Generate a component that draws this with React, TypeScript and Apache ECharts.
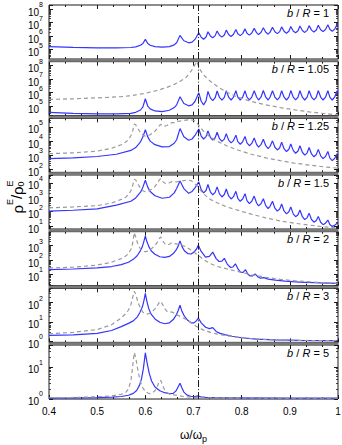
import { useEffect, useRef } from 'react';
import * as echarts from 'echarts';

// ---------- DATA (values are log10 of rho^E / rho_0^E) ----------
const panelLabels = ['1', '1.05', '1.25', '1.5', '2', '3', '5'];
const xTicks = [0.4, 0.5, 0.6, 0.7, 0.8, 0.9, 1];
const omegaDivider = Math.SQRT1_2; // dash-dot line at omega/omega_p = 1/sqrt(2)

// log10 axis extents of each panel (min, max)
const yExtentLog = [
  [4.3, 8.3],
  [4.3, 8.3],
  [1.81, 5.6],
  [0.8, 4.54],
  [0.22, 3.97],
  [-0.07, 2.75],
  [-0.02, 1.69],
];

// shared omega grid of the blue curves of panels 1-4
const omegaB = [
  0.40, 0.45, 0.50, 0.54, 0.57, 0.58, 0.59, 0.595, 0.60, 0.605, 0.61, 0.62, 0.635, 0.65, 0.66, 0.665, 0.672, 0.68, 0.69, 0.697, 0.703,
  0.711, 0.716, 0.721, 0.726, 0.730, 0.735, 0.740, 0.745, 0.749, 0.754, 0.759, 0.764, 0.768, 0.773, 0.778, 0.783,
  0.788, 0.792, 0.797, 0.802, 0.807, 0.811, 0.816, 0.821, 0.826, 0.831, 0.835, 0.840, 0.845, 0.850, 0.855, 0.859,
  0.864, 0.869, 0.874, 0.879, 0.883, 0.888, 0.893, 0.898, 0.902, 0.907, 0.912, 0.917, 0.921, 0.926, 0.931, 0.936,
  0.940, 0.945, 0.950, 0.955, 0.959, 0.964, 0.969, 0.974, 0.979, 0.983, 0.988, 0.993, 0.998, 1.0,
];

const logB1 = [
  5.22, 5.16, 5.12, 5.12, 5.15, 5.2, 5.32, 5.45, 5.75, 5.45, 5.32, 5.22, 5.18, 5.22, 5.35, 5.5, 6.05, 5.65, 5.5, 5.55, 5.75,
  6.25, 5.91, 5.76, 5.93, 6.32, 6.01, 5.88, 6.03, 6.38, 6.06, 5.92, 6.08, 6.44, 6.11, 5.97, 6.13,
  6.49, 6.17, 6.03, 6.18, 6.53, 6.21, 6.07, 6.22, 6.57, 6.25, 6.11, 6.26, 6.61, 6.28, 6.14, 6.29,
  6.65, 6.32, 6.18, 6.33, 6.68, 6.35, 6.21, 6.36, 6.71, 6.38, 6.24, 6.39, 6.74, 6.41, 6.27, 6.42,
  6.77, 6.44, 6.30, 6.45, 6.80, 6.47, 6.33, 6.48, 6.83, 6.50, 6.36, 6.51, 6.86, 6.8,
];

const logB2 = [
  4.54, 4.47, 4.43, 4.43, 4.47, 4.55, 4.72, 4.95, 5.55, 5.0, 4.8, 4.65, 4.6, 4.7, 4.9, 5.1, 5.7, 5.2, 5.03, 5.1, 5.35,
  5.99, 5.37, 5.1, 5.4, 6.1, 5.62, 5.42, 5.63, 6.13, 5.65, 5.45, 5.66, 6.14, 5.67, 5.46, 5.67,
  6.15, 5.67, 5.46, 5.67, 6.14, 5.67, 5.47, 5.68, 6.15, 5.68, 5.46, 5.67, 6.16, 5.67, 5.46, 5.68,
  6.15, 5.68, 5.47, 5.68, 6.15, 5.67, 5.46, 5.67, 6.16, 5.68, 5.47, 5.68, 6.15, 5.67, 5.46, 5.67,
  6.15, 5.68, 5.47, 5.68, 6.16, 5.68, 5.46, 5.67, 6.15, 5.67, 5.46, 5.67, 6.15, 6.0,
];

const logB3 = [
  2.77, 2.82, 2.92, 3.08, 3.35, 3.55, 3.95, 4.3, 4.8, 4.3, 4.0, 3.75, 3.6, 3.62, 3.85, 4.1, 4.88, 4.3, 4.06, 4.15, 4.4,
  4.85, 4.36, 4.15, 4.32, 4.72, 4.27, 4.08, 4.24, 4.62, 4.17, 3.98, 4.14, 4.52, 4.07, 3.88, 4.04,
  4.42, 3.97, 3.78, 3.95, 4.33, 3.88, 3.68, 3.84, 4.22, 3.77, 3.58, 3.75, 4.13, 3.68, 3.48, 3.64,
  4.02, 3.57, 3.38, 3.54, 3.92, 3.47, 3.27, 3.43, 3.8, 3.35, 3.15, 3.31, 3.68, 3.22, 3.02, 3.18,
  3.55, 3.1, 2.9, 3.06, 3.42, 2.97, 2.77, 2.92, 3.28, 2.83, 2.63, 2.78, 3.12, 3.05,
];

const logB4 = [
  2.04, 2.1, 2.2, 2.45, 2.72, 2.95, 3.35, 3.7, 4.18, 3.7, 3.4, 3.1, 2.93, 3.0, 3.3, 3.6, 4.13, 3.6, 3.27, 3.4, 3.65,
  4.06, 3.53, 3.3, 3.47, 3.88, 3.38, 3.17, 3.34, 3.72, 3.23, 3.02, 3.19, 3.57, 3.09, 2.88, 3.04,
  3.41, 2.93, 2.72, 2.88, 3.25, 2.77, 2.56, 2.72, 3.08, 2.6, 2.4, 2.55, 2.9, 2.42, 2.22, 2.37,
  2.72, 2.24, 2.04, 2.19, 2.53, 2.05, 1.85, 1.99, 2.33, 1.85, 1.65, 1.79, 2.12, 1.65, 1.45, 1.59,
  1.9, 1.46, 1.27, 1.39, 1.66, 1.27, 1.1, 1.2, 1.42, 1.11, 0.98, 1.05, 1.2, 1.15,
];

const omegaB5 = [
  0.4, 0.45, 0.5, 0.53, 0.55, 0.565, 0.575, 0.583, 0.589, 0.594, 0.597, 0.6, 0.603, 0.607, 0.612,
  0.62, 0.63, 0.64, 0.65, 0.658, 0.664, 0.668, 0.672, 0.676, 0.681, 0.688, 0.695, 0.701, 0.706, 0.71,
  0.716, 0.725, 0.733, 0.74, 0.747, 0.753, 0.759, 0.764, 0.77, 0.777, 0.782, 0.787, 0.793, 0.798, 0.803,
  0.808, 0.813, 0.818, 0.823, 0.828, 0.834, 0.839, 0.846, 0.855, 0.87, 0.89, 0.92, 0.95, 0.98, 1.0,
];
const logB5 = [
  1.33, 1.38, 1.45, 1.55, 1.68, 1.85, 2.05, 2.3, 2.6, 2.95, 3.3, 3.68, 3.3, 2.95, 2.65,
  2.4, 2.23, 2.18, 2.25, 2.45, 2.7, 2.95, 3.33, 2.95, 2.65, 2.45, 2.42, 2.55, 2.75, 3.02,
  2.6, 2.2, 2.25, 2.55, 2.1, 1.9, 1.92, 2.12, 1.72, 1.48, 1.52, 1.74, 1.35, 1.14, 1.15,
  1.33, 1.02, 0.9, 0.9, 1.04, 0.82, 0.74, 0.78, 0.68, 0.6, 0.53, 0.47, 0.43, 0.4, 0.38,
];

const omegaB6 = [
  0.4, 0.45, 0.5, 0.53, 0.55, 0.565, 0.575, 0.583, 0.589, 0.594, 0.597, 0.6, 0.603, 0.607, 0.612,
  0.62, 0.63, 0.64, 0.65, 0.658, 0.664, 0.668, 0.672, 0.676, 0.681, 0.688, 0.695, 0.701, 0.706, 0.71,
  0.716, 0.725, 0.733, 0.74, 0.747, 0.755, 0.765, 0.78, 0.8, 0.83, 0.87, 0.92, 1.0,
];
const logB6 = [
  0.29, 0.32, 0.4, 0.55, 0.75, 0.92, 1.05, 1.25, 1.5, 1.8, 2.1, 2.49, 2.1, 1.7, 1.4,
  1.15, 0.98, 0.9, 0.95, 1.12, 1.35, 1.58, 1.87, 1.55, 1.3, 1.08, 0.95, 0.95, 1.05, 1.2,
  0.95, 0.72, 0.65, 0.7, 0.5, 0.4, 0.33, 0.25, 0.17, 0.1, 0.06, 0.03, 0.015,
];

const omegaB7 = [
  0.4, 0.45, 0.5, 0.53, 0.55, 0.565, 0.575, 0.582, 0.588, 0.592, 0.596, 0.6, 0.604, 0.608, 0.613,
  0.62, 0.63, 0.64, 0.65, 0.658, 0.664, 0.668, 0.672, 0.676, 0.68, 0.686, 0.695, 0.703, 0.709, 0.715,
  0.725, 0.75, 0.8, 0.9, 1.0,
];
const logB7 = [
  0.01, 0.015, 0.025, 0.04, 0.06, 0.1, 0.16, 0.25, 0.42, 0.62, 0.95, 1.44, 1.1, 0.8, 0.55,
  0.36, 0.24, 0.18, 0.15, 0.16, 0.24, 0.36, 0.48, 0.33, 0.2, 0.11, 0.06, 0.06, 0.08, 0.05,
  0.03, 0.02, 0.015, 0.01, 0.01,
];

// shared omega grid of the grey dashed curves (panels 2-7)
const omegaG = [
  0.40, 0.45, 0.50, 0.53, 0.55, 0.56, 0.565, 0.57, 0.574, 0.577, 0.58, 0.585, 0.59, 0.595, 0.60,
  0.605, 0.61, 0.615, 0.62, 0.625, 0.629, 0.632, 0.636, 0.64, 0.645, 0.65, 0.655, 0.66, 0.667, 0.675,
  0.685, 0.695, 0.701, 0.707, 0.713, 0.72, 0.735, 0.75, 0.77, 0.79, 0.82, 0.85, 0.88, 0.91, 0.94, 0.97, 1.0,
];
const logG2 = [
  5.50, 5.55, 5.62, 5.67, 5.71, 5.74, 5.76, 5.78, 5.80, 5.82, 5.84, 5.86, 5.90, 5.93, 5.97,
  6.00, 6.04, 6.08, 6.13, 6.18, 6.22, 6.25, 6.30, 6.34, 6.40, 6.47, 6.55, 6.62, 6.74, 6.90,
  7.15, 7.6, 7.95, 8.3, 7.75, 7.35, 6.85, 6.45, 6.02, 5.7, 5.35, 5.1, 4.9, 4.73, 4.58, 4.46, 4.36,
];
const logG3 = [
  3.12, 3.18, 3.3, 3.5, 3.75, 3.95, 4.12, 4.38, 4.75, 5.2, 5.15, 4.85, 4.6, 4.42, 4.35,
  4.37, 4.45, 4.56, 4.7, 4.9, 5.08, 5.18, 5.1, 5.05, 5.1, 5.2, 5.3, 5.3, 5.38, 5.43,
  5.48, 5.5, 5.45, 5.3, 5.02, 4.72, 4.27, 3.97, 3.66, 3.4, 3.08, 2.83, 2.63, 2.45, 2.32, 2.2, 2.1,
];
const logG4 = [
  2.27, 2.33, 2.42, 2.6, 2.85, 3.02, 3.2, 3.45, 3.85, 4.25, 4.2, 3.9, 3.62, 3.45, 3.38,
  3.4, 3.48, 3.6, 3.75, 3.97, 4.2, 4.29, 4.1, 3.98, 3.95, 4.0, 4.08, 4.05, 4.08, 4.12,
  4.18, 4.15, 4.0, 3.8, 3.55, 3.25, 2.85, 2.6, 2.32, 2.12, 1.83, 1.57, 1.36, 1.2, 1.07, 0.96, 0.87,
];
const logG5 = [
  1.45, 1.5, 1.65, 1.85, 2.1, 2.3, 2.45, 2.75, 3.2, 3.9, 3.6, 3.05, 2.75, 2.6, 2.58,
  2.62, 2.72, 2.85, 3.0, 3.25, 3.5, 3.6, 3.35, 3.15, 3.05, 3.1, 3.2, 3.15, 3.1, 3.05,
  2.9, 2.7, 2.55, 2.4, 2.25, 2.05, 1.75, 1.55, 1.38, 1.22, 0.98, 0.8, 0.66, 0.56, 0.49, 0.43, 0.38,
];
const logG6 = [
  0.38, 0.45, 0.6, 0.85, 1.2, 1.45, 1.62, 1.9, 2.3, 2.6, 2.45, 2.0, 1.7, 1.5, 1.42,
  1.42, 1.45, 1.55, 1.68, 1.85, 2.02, 2.07, 1.9, 1.7, 1.55, 1.5, 1.52, 1.45, 1.35, 1.25,
  1.12, 0.95, 0.85, 0.75, 0.67, 0.58, 0.45, 0.36, 0.27, 0.2, 0.13, 0.08, 0.05, 0.035, 0.025, 0.02, 0.015,
];
const logG7 = [
  0.02, 0.03, 0.05, 0.08, 0.13, 0.2, 0.3, 0.55, 1.05, 1.45, 1.3, 0.85, 0.52, 0.33, 0.22,
  0.17, 0.15, 0.18, 0.24, 0.38, 0.55, 0.57, 0.4, 0.27, 0.18, 0.14, 0.13, 0.11, 0.09, 0.07,
  0.05, 0.04, 0.035, 0.03, 0.025, 0.02, 0.02, 0.02, 0.015, 0.015, 0.01, 0.01, 0.01, 0.01, 0.01, 0.01, 0.01,
];

const blueCurves: [number[], number[]][] = [
  [omegaB, logB1], [omegaB, logB2], [omegaB, logB3], [omegaB, logB4],
  [omegaB5, logB5], [omegaB6, logB6], [omegaB7, logB7],
];
const greyCurves: ([number[], number[]] | null)[] = [
  null, [omegaG, logG2], [omegaG, logG3], [omegaG, logG4], [omegaG, logG5], [omegaG, logG6], [omegaG, logG7],
];

// ---------- LAYOUT ----------
const W = 342;
const H = 445;
const PANEL_PITCH = 56.67;
const PANEL_TOP0 = 5;
const PANEL_H = 54;
const PANEL_TOPS = [0, 1, 2, 3, 4, 5, 6].map((i) => PANEL_TOP0 + i * PANEL_PITCH);
const GRID_LEFT = 49;
const GRID_W = 289;
const FONT = 'Liberation Sans, Arial, Helvetica, sans-serif';
const BLUE = '#3535ff';
const GREY = '#9a9a9a';
const INK = '#1a1a1a';

const toPairs = (xs: number[], es: number[]) => xs.map((x, i) => [x, Math.pow(10, es[i])]);
const isPow10 = (v: number) => {
  const e = Math.log10(v);
  return Math.abs(e - Math.round(e)) < 1e-6;
};

function measure(text: string, font: string) {
  const ctx = document.createElement('canvas').getContext('2d');
  if (!ctx) return text.length * 6;
  ctx.font = font;
  return ctx.measureText(text).width;
}

function buildOption() {
  const n = PANEL_TOPS.length;
  const grid = PANEL_TOPS.map((t) => ({
    left: GRID_LEFT, top: t, width: GRID_W, height: PANEL_H,
    show: true, borderColor: INK, borderWidth: 1, backgroundColor: '#fff',
    containLabel: false, outerBoundsMode: 'none',
  }));

  const xAxis: any[] = [];
  const yAxis: any[] = [];
  for (let i = 0; i < n; i++) {
    for (const pos of ['bottom', 'top']) {
      const isMain = pos === 'bottom' && i === n - 1;
      xAxis.push({
        type: 'value', gridIndex: i, position: pos, min: 0.4, max: 1, interval: 0.1,
        axisLine: { show: false },
        axisTick: { show: true, inside: true, length: 4, lineStyle: { color: INK, width: 1 } },
        minorTick: { show: true, splitNumber: 3, length: 2, lineStyle: { color: INK, width: 1 } },
        splitLine: { show: false }, minorSplitLine: { show: false },
        axisLabel: {
          show: isMain, fontFamily: FONT, fontSize: 10, color: '#000', margin: 7,
          formatter: (v: number) => {
            const hit = xTicks.find((t) => Math.abs(t - v) < 1e-6);
            return hit === undefined ? '' : String(hit);
          },
        },
        name: isMain ? '{w|ω/ω}{p|p}' : '',
        nameLocation: 'middle', nameGap: 28,
        nameTextStyle: {
          rich: {
            w: { fontFamily: FONT, fontSize: 12, lineHeight: 16, color: '#000' },
            p: { fontFamily: FONT, fontSize: 9, lineHeight: 10, verticalAlign: 'bottom', color: '#000' },
          },
        },
      });
    }
    for (const pos of ['left', 'right']) {
      yAxis.push({
        type: 'log', logBase: 10, gridIndex: i, position: pos,
        min: Math.pow(10, yExtentLog[i][0]), max: Math.pow(10, yExtentLog[i][1]),
        axisLine: { show: false },
        axisTick: { show: true, inside: true, length: 4, lineStyle: { color: INK, width: 1 } },
        minorTick: { show: true, splitNumber: 9, length: 2, lineStyle: { color: INK, width: 0.8 } },
        splitLine: { show: false }, minorSplitLine: { show: false },
        axisLabel: {
          show: pos === 'left', margin: 6, color: '#000', interval: 0,
          showMinLabel: true, showMaxLabel: true, hideOverlap: false,
          formatter: (v: number) => (isPow10(v) ? `{b|10}{s|${Math.round(Math.log10(v))}}` : ''),
          rich: {
            b: { fontFamily: FONT, fontSize: 10, lineHeight: 16, verticalAlign: 'bottom', color: '#000' },
            s: { fontFamily: FONT, fontSize: 7, verticalAlign: 'top', color: '#000' },
          },
        },
      });
    }
  }

  const series: any[] = [];
  for (let i = 0; i < n; i++) {
    const [bx, by] = blueCurves[i];
    series.push({
      type: 'line', xAxisIndex: 2 * i, yAxisIndex: 2 * i,
      data: toPairs(bx, by), showSymbol: false, symbol: 'none', clip: true,
      lineStyle: { color: BLUE, width: 1.2 }, z: 3,
      markLine: {
        silent: true, symbol: 'none', label: { show: false },
        lineStyle: { color: INK, width: 1, type: [7, 2, 1, 2] },
        data: [{ xAxis: omegaDivider }],
      },
    });
    const g = greyCurves[i];
    if (g) {
      series.push({
        type: 'line', xAxisIndex: 2 * i, yAxisIndex: 2 * i,
        data: toPairs(g[0], g[1]), showSymbol: false, symbol: 'none', clip: true,
        lineStyle: { color: GREY, width: 1.2, type: [4, 3] }, z: 4,
      });
    }
  }

  const graphic: any[] = [];
  // grey bands between stacked panels
  for (let i = 0; i < n - 1; i++) {
    const y0 = PANEL_TOPS[i] + PANEL_H;
    graphic.push({
      type: 'rect', z: 20, silent: true,
      shape: { x: GRID_LEFT - 0.5, y: y0, width: GRID_W + 1, height: PANEL_TOPS[i + 1] - y0 },
      style: { fill: '#7a7a7a' },
    });
  }

  // panel labels "b/R = ..." laid out token by token (italic b and R), right aligned
  const LABEL_SIZE = 11;
  const fItal = `italic ${LABEL_SIZE}px ${FONT}`;
  const fNorm = `${LABEL_SIZE}px ${FONT}`;
  const labelRight = GRID_LEFT + GRID_W - 9;
  PANEL_TOPS.forEach((t, i) => {
    const tokens: [string, boolean][] = [['b', true], [' / ', false], ['R', true], [` = ${panelLabels[i]}`, false]];
    const widths = tokens.map(([s, it]) => measure(s, it ? fItal : fNorm));
    let x = labelRight - widths.reduce((a, b) => a + b, 0);
    tokens.forEach(([s, it], k) => {
      graphic.push({
        type: 'text', x, y: t + 7.5, z: 30, silent: true,
        style: {
          text: s, fontFamily: FONT, fontSize: LABEL_SIZE, fontStyle: it ? 'italic' : 'normal', fill: '#000',
          align: 'left', verticalAlign: 'middle',
        },
      });
      x += widths[k];
    });
  });

  // y-axis title  rho^E / rho_0^E  (rotated)
  const big = `15px ${FONT}`;
  const small = `9px ${FONT}`;
  const wR = measure('ρ', big);
  const wE = measure('E', small);
  const wS = measure('/', big);
  const w0 = measure('0', small);
  const total = wR + wE + wS + wR + Math.max(wE, w0);
  const x0 = -total / 2;
  const mk = (text: string, x: number, y: number, size: number) => ({
    type: 'text', x, y,
    style: {
      text, fontFamily: FONT, fontSize: size, fill: '#000',
      align: 'left', verticalAlign: 'middle',
    },
  });
  graphic.push({
    type: 'group', x: 16, y: 197, rotation: Math.PI / 2,
    children: [
      mk('ρ', x0, 1, 15),
      mk('E', x0 + wR, -6, 9),
      mk('/', x0 + wR + wE, 0, 15),
      mk('ρ', x0 + wR + wE + wS, 1, 15),
      mk('E', x0 + 2 * wR + wE + wS, -6, 9),
      mk('0', x0 + 2 * wR + wE + wS, 5, 9),
    ],
  });

  return {
    animation: false,
    backgroundColor: '#fff',
    grid, xAxis, yAxis, series, graphic,
  };
}

export default function App() {
  const ref = useRef<HTMLDivElement>(null);
  useEffect(() => {
    if (!ref.current) return;
    const chart = echarts.init(ref.current, null, { renderer: 'svg' });
    chart.setOption(buildOption() as any);
    return () => chart.dispose();
  }, []);
  return (
    <div
      ref={ref}
      style={{ position: 'fixed', left: 0, top: 0, width: W, height: H, background: '#fff' }}
    />
  );
}
